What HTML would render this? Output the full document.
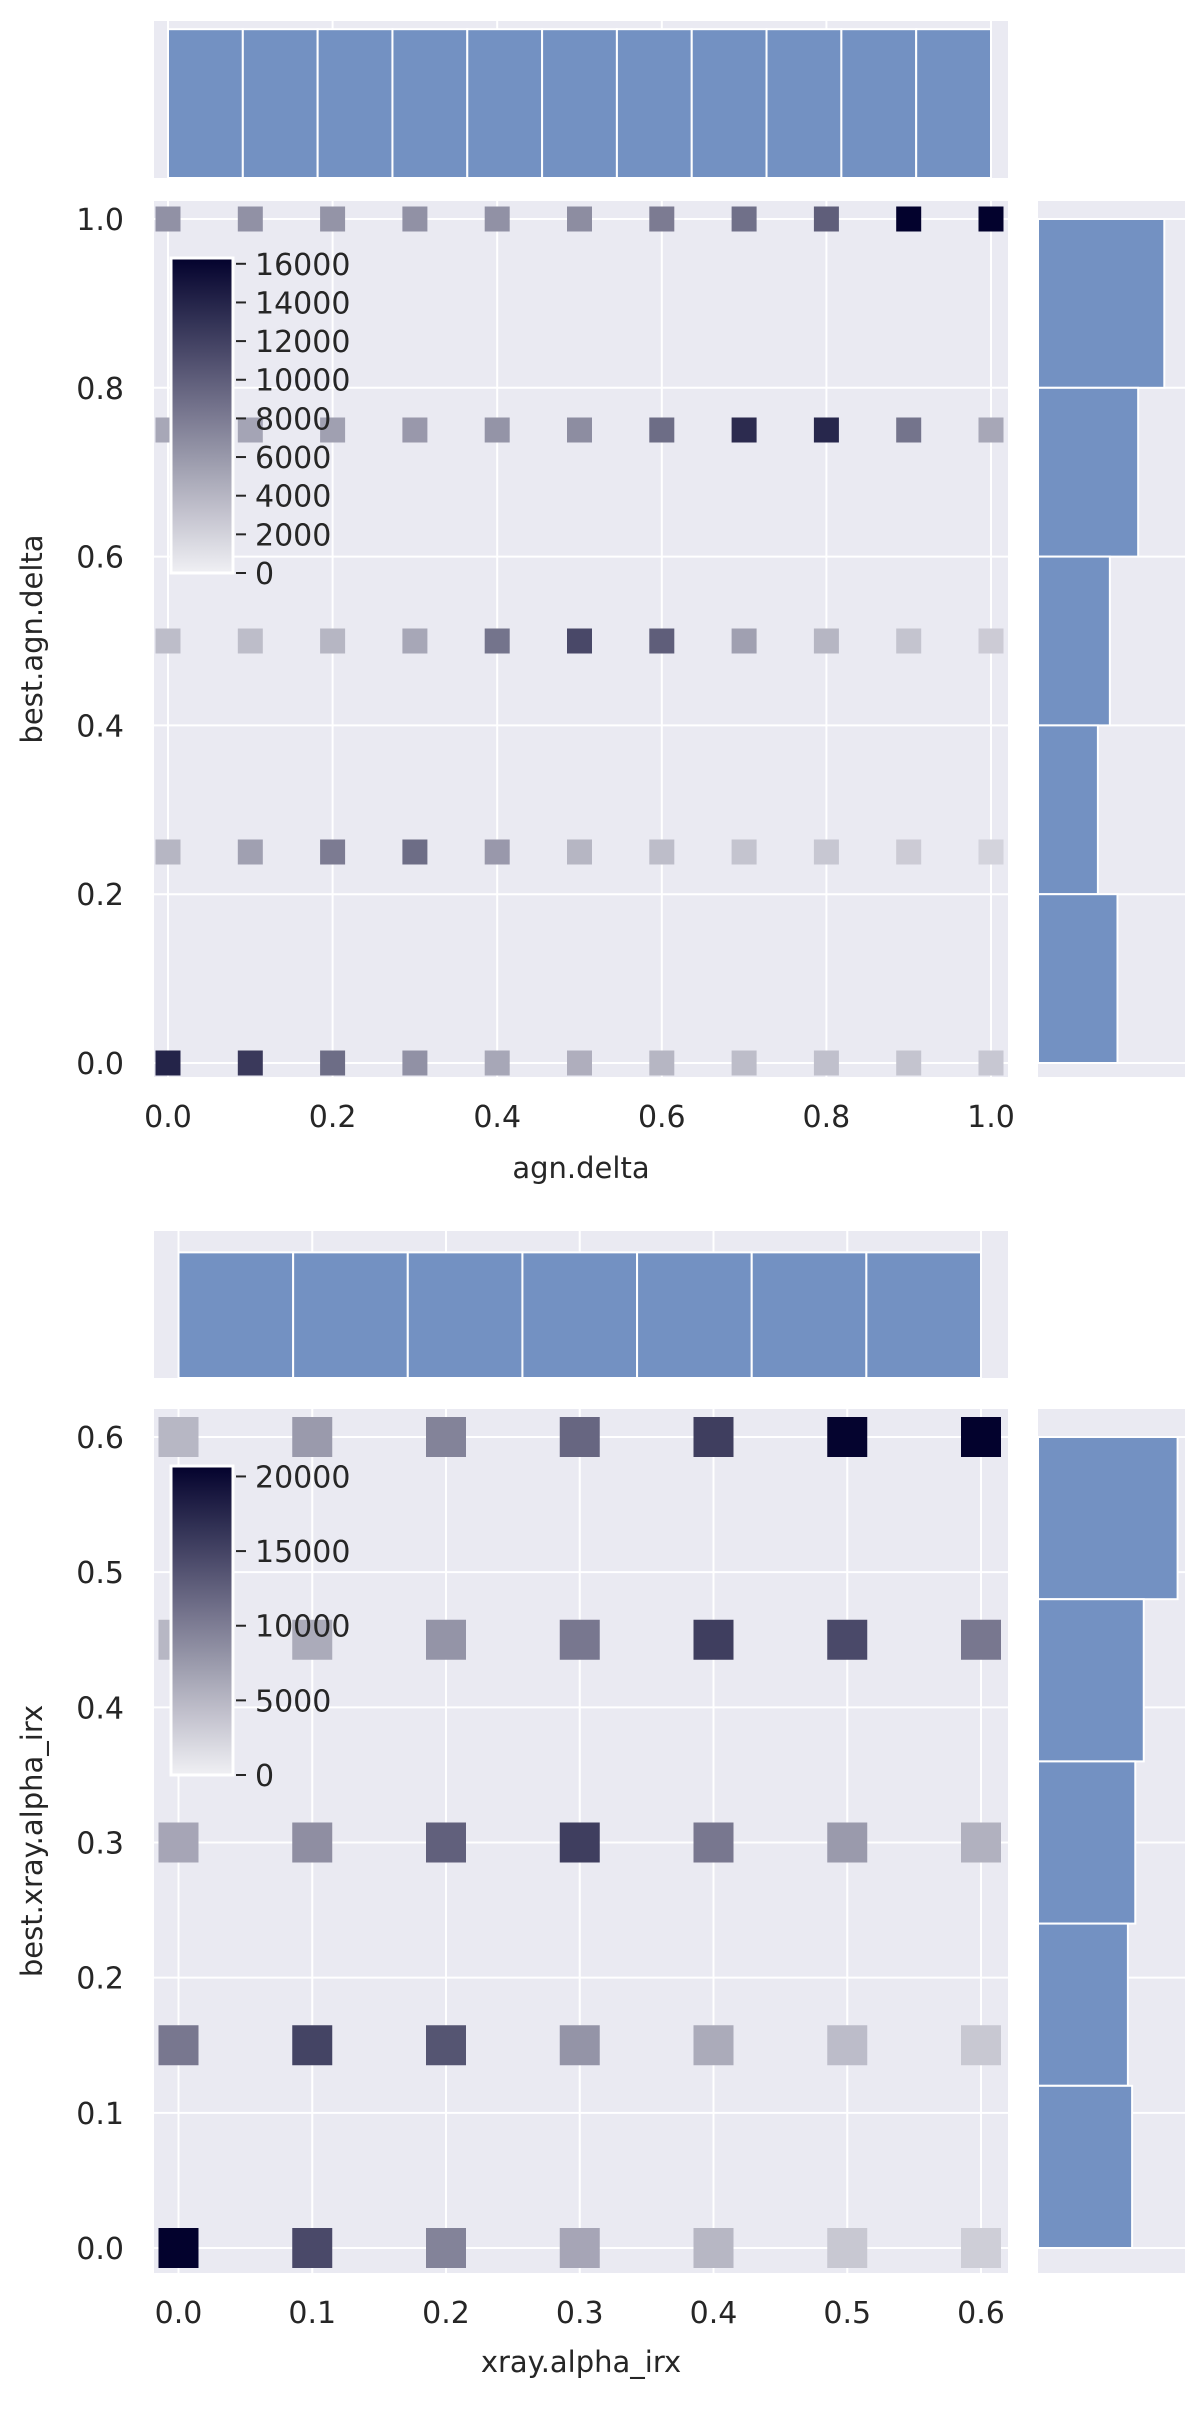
<!DOCTYPE html>
<html><head><meta charset="utf-8">
<style>
html,body{margin:0;padding:0;background:#fff;}
svg{display:block;font-family:"DejaVu Sans","Liberation Sans",sans-serif;}
text{fill:#262626;}
</style></head>
<body>
<svg id="fig" width="1200" height="2416" viewBox="0 0 1200 2416" xmlns="http://www.w3.org/2000/svg"></svg>
<script>
// ---------- Chart 1 data ----------
const agnXCats = [0,0.1,0.2,0.3,0.4,0.5,0.6,0.7,0.8,0.9,1.0];
const agnYCats = [1.0,0.75,0.5,0.25,0];
const agnRow100 = [6500,6500,6300,6500,6500,6800,8000,8800,10000,16300,16300];
const agnRow075 = [5000,5200,5500,6000,6300,6800,9000,13500,13800,8500,5000];
const agnRow050 = [3500,3500,4000,5000,8500,11500,10000,5500,4000,3000,2500];
const agnRow025 = [4000,5500,8000,9000,6000,4000,3500,3000,2800,2500,2000];
const agnRow000 = [14000,12500,9000,6500,5000,4500,4000,3500,3300,3000,2800];
const agnTopCounts = [100,100,100,100,100,100,100,100,100,100,100];
const agnRightBins = [0.8,0.6,0.4,0.2,0.0];
const agnRightCounts = [58,46,33,27.5,36.5];
const agnXTicks = ["0.0","0.2","0.4","0.6","0.8","1.0"];
const agnYTicks = ["0.0","0.2","0.4","0.6","0.8","1.0"];
const agnCbTicks = [0,2000,4000,6000,8000,10000,12000,14000,16000];

// ---------- Chart 2 data ----------
const irxXCats = [0,0.1,0.2,0.3,0.4,0.5,0.6];
const irxYCats = [0.6,0.45,0.3,0.15,0];
const irxRow060 = [5000,7500,9500,12000,15500,20500,20700];
const irxRow045 = [5000,6000,8000,10500,15500,14500,10500];
const irxRow030 = [6500,8500,12500,15500,10500,7500,5500];
const irxRow015 = [10500,15000,13500,8000,6000,4500,3500];
const irxRow000 = [20700,14500,9500,6500,5000,3500,3000];
const irxTopCounts = [100,100,100,100,100,100,100];
const irxRightBins = [0.48,0.36,0.24,0.12,0.0];
const irxRightCounts = [66,50,46,42.5,44.5];
const irxXTicks = ["0.0","0.1","0.2","0.3","0.4","0.5","0.6"];
const irxYTicks = ["0.0","0.1","0.2","0.3","0.4","0.5","0.6"];
const irxCbTicks = [0,5000,10000,15000,20000];

const NS = "http://www.w3.org/2000/svg";
const svg = document.getElementById("fig");
function el(tag, attrs, parent, txt){
  const e = document.createElementNS(NS, tag);
  for (const k in attrs) e.setAttribute(k, attrs[k]);
  if (txt !== undefined) e.textContent = txt;
  (parent||svg).appendChild(e);
  return e;
}
const BG="#eaeaf2", BAR="rgb(115,145,194)";
function cmap(v, vmax){
  const t=Math.max(0,Math.min(1,v/vmax));
  const a=[240,240,244], b=[3,2,45];
  return "rgb("+a.map((c,i)=>Math.round(c+(b[i]-c)*t)).join(",")+")";
}

function drawJoint(cfg){
  const {x0,x1,top,bot,mtTop,mtBot,rx0,rx1,xmin,xmax,xpx0,xpx1,ymax,ypx0,ypx1,
    xCats,yCats,rows,cell,topCounts,topMax,nTop,rightBins,binW,rightCounts,rightMax,
    xTicks,yTicks,xLabel,yLabel,cb,cbTicks,vmax,key,xLblY} = cfg;
  const sx = v => xpx0 + (v - xmin)/(xmax - xmin)*(xpx1-xpx0);
  const sy = v => ypx0 + (v/ymax)*(ypx1-ypx0);
  const g = el("g",{});
  
  
  const main = el("rect",{x:x0,y:top,width:x1-x0,height:bot-top,fill:BG},g);
  
  
  const mt = el("rect",{x:x0,y:mtTop,width:x1-x0,height:mtBot-mtTop,fill:BG},g);
  
  
  const mr = el("rect",{x:rx0,y:top,width:rx1-rx0,height:bot-top,fill:BG},g);
  
  
  xTicks.forEach(t=>{
    const X=sx(parseFloat(t));
    el("line",{x1:X,x2:X,y1:top,y2:bot,stroke:"#fff","stroke-width":2},g);
    el("line",{x1:X,x2:X,y1:mtTop,y2:mtBot,stroke:"#fff","stroke-width":2},g);
    const tl = el("text",{x:X,y:bot+50,"font-size":30,"text-anchor":"middle"},g,t);
    
    
  });
  yTicks.forEach(t=>{
    const Y=sy(parseFloat(t));
    el("line",{x1:x0,x2:x1,y1:Y,y2:Y,stroke:"#fff","stroke-width":2},g);
    el("line",{x1:rx0,x2:rx1,y1:Y,y2:Y,stroke:"#fff","stroke-width":2},g);
    const tl = el("text",{x:x0-30,y:Y+11,"font-size":30,"text-anchor":"end"},g,t);
    
    
  });
  yCats.forEach((yv,ri)=>{
    xCats.forEach((xv,ci)=>{
      const c = el("rect",{x:sx(xv)-cell/2,y:sy(yv)-cell/2,width:cell,height:cell,fill:cmap(rows[ri][ci],vmax)},g);
      
      
    });
  });
  const bw = (xCats[xCats.length-1]-xCats[0])/nTop;
  topCounts.forEach((cnt,i)=>{
    const a=sx(xCats[0]+i*bw), b=sx(xCats[0]+(i+1)*bw);
    const h=(cnt/topMax)*(mtBot-mtTop);
    const r = el("rect",{x:a,y:mtBot-h,width:b-a,height:h,fill:BAR,stroke:"#fff","stroke-width":2},g);
    
    
  });
  rightBins.forEach((lo,i)=>{
    const ya=sy(lo+binW), yb=sy(lo);
    const w=(rightCounts[i]/rightMax)*(rx1-rx0);
    const r = el("rect",{x:rx0,y:ya,width:w,height:yb-ya,fill:BAR,stroke:"#fff","stroke-width":2},g);
    
    
  });
  const gid = key+"-cbgrad";
  const defs = el("defs",{},g);
  const lg = el("linearGradient",{id:gid,x1:0,y1:1,x2:0,y2:0},defs);
  for(let i=0;i<=10;i++) el("stop",{offset:i/10,"stop-color":cmap(i/10*vmax,vmax)},lg);
  const cbr = el("rect",{x:cb.x,y:cb.top,width:cb.w,height:cb.bot-cb.top,fill:"url(#"+gid+")",stroke:"#fff","stroke-width":3},g);
  
  
  cbTicks.forEach(t=>{
    const Y = cb.bot - t/cb.vmax*(cb.bot-cb.top);
    el("line",{x1:cb.x+cb.w+3,x2:cb.x+cb.w+13,y1:Y,y2:Y,stroke:"#262626","stroke-width":2},g);
    const tl = el("text",{x:cb.x+cb.w+22,y:Y+11,"font-size":30},g,String(t));
    
    
  });
  const xl = el("text",{x:(x0+x1)/2,y:xLblY,"font-size":29,"text-anchor":"middle"},g,xLabel);
  
  
  const ycen=(top+bot)/2;
  const yl = el("text",{x:0,y:0,"font-size":29,"text-anchor":"middle",transform:"translate(42,"+ycen+") rotate(-90)"},g,yLabel);
  
  
}

drawJoint({key:"agn",x0:154,x1:1008,top:201,bot:1077,mtTop:21,mtBot:178,rx0:1038,rx1:1185,
  xmin:0,xmax:1,xpx0:168,xpx1:991,ymax:1,ypx0:1063,ypx1:219,
  xCats:agnXCats,yCats:agnYCats,rows:[agnRow100,agnRow075,agnRow050,agnRow025,agnRow000],cell:25,
  topCounts:agnTopCounts,topMax:105.5,nTop:11,rightBins:agnRightBins,binW:0.2,rightCounts:agnRightCounts,rightMax:67.5,
  xTicks:agnXTicks,yTicks:agnYTicks,xLabel:"agn.delta",yLabel:"best.agn.delta",
  cb:{x:171,w:62,top:258,bot:573,vmax:16300},cbTicks:agnCbTicks,vmax:16300,xLblY:1178});

drawJoint({key:"irx",x0:154,x1:1008,top:1409,bot:2273,mtTop:1231,mtBot:1378,rx0:1038,rx1:1185,
  xmin:0,xmax:0.6,xpx0:178.5,xpx1:981,ymax:0.6,ypx0:2248,ypx1:1437,
  xCats:irxXCats,yCats:irxYCats,rows:[irxRow060,irxRow045,irxRow030,irxRow015,irxRow000],cell:40,
  topCounts:irxTopCounts,topMax:117,nTop:7,rightBins:irxRightBins,binW:0.12,rightCounts:irxRightCounts,rightMax:69.5,
  xTicks:irxXTicks,yTicks:irxYTicks,xLabel:"xray.alpha_irx",yLabel:"best.xray.alpha_irx",
  cb:{x:171,w:62,top:1466,bot:1775,vmax:20700},cbTicks:irxCbTicks,vmax:20700,xLblY:2372});
</script>
</body></html>
